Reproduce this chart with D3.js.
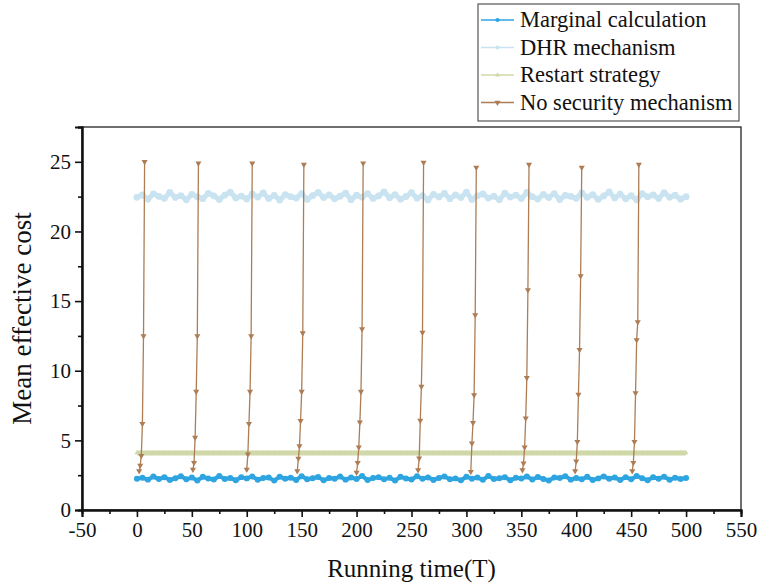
<!DOCTYPE html>
<html>
<head>
<meta charset="utf-8">
<script src="https://cdn.jsdelivr.net/npm/d3@7"></script>
<style>
  body { margin: 0; background: #fff; }
  text { font-family: "Liberation Serif", "Times New Roman", serif; fill: #111; }
</style>
</head>
<body>
<div id="chart"></div>
<script>
// ── Data ──────────────────────────────────────────────────────────────────────
const SERIES_NAMES = ["Marginal calculation", "DHR mechanism", "Restart strategy", "No security mechanism"];
const X_TICKS = [-50, 0, 50, 100, 150, 200, 250, 300, 350, 400, 450, 500, 550];
const Y_TICKS = [0, 5, 10, 15, 20, 25];

// sampled every 5 T from 0 to 500
const marginalVals = [
  2.25,2.31,2.18,2.40,2.22,2.35,2.15,2.28,2.42,2.20,
  2.33,2.12,2.38,2.26,2.19,2.44,2.23,2.30,2.14,2.36,
  2.27,2.41,2.17,2.29,2.34,2.11,2.39,2.24,2.32,2.16,
  2.43,2.21,2.28,2.37,2.13,2.30,2.25,2.40,2.18,2.33,
  2.22,2.45,2.15,2.29,2.36,2.20,2.31,2.12,2.38,2.26,
  2.19,2.42,2.24,2.34,2.16,2.30,2.41,2.21,2.27,2.13,
  2.39,2.25,2.33,2.17,2.44,2.22,2.28,2.35,2.14,2.31,
  2.26,2.40,2.19,2.37,2.23,2.12,2.34,2.29,2.43,2.18,
  2.30,2.21,2.38,2.15,2.27,2.41,2.24,2.33,2.16,2.36,
  2.20,2.44,2.28,2.13,2.35,2.25,2.39,2.17,2.32,2.22,2.30
];
const dhrVals = [
  22.45,22.62,22.31,22.70,22.52,22.38,22.80,22.44,22.58,22.27,
  22.66,22.49,22.35,22.74,22.56,22.29,22.61,22.83,22.41,22.54,
  22.33,22.69,22.47,22.77,22.36,22.59,22.25,22.64,22.50,22.40,
  22.72,22.30,22.57,22.81,22.43,22.63,22.34,22.53,22.76,22.28,
  22.60,22.46,22.71,22.37,22.55,22.85,22.42,22.65,22.32,22.51,
  22.78,22.39,22.58,22.26,22.67,22.48,22.73,22.35,22.62,22.44,
  22.82,22.30,22.56,22.69,22.40,22.53,22.27,22.75,22.47,22.61,
  22.36,22.80,22.50,22.33,22.66,22.43,22.72,22.29,22.59,22.52,
  22.38,22.77,22.45,22.64,22.31,22.55,22.84,22.41,22.68,22.34,
  22.57,22.26,22.71,22.49,22.63,22.37,22.79,22.46,22.60,22.32,22.50
];
const restartVal = 4.1;

// No security mechanism: one burst per period, start time + values at each T
const spikeStarts = [2, 51, 100, 146, 200, 256, 304, 351, 399, 451];
const spikeVals = [
  [2.8, 3.2, 3.9, 6.2, 12.5, 25.0],
  [2.9, 3.4, 5.2, 8.5, 12.5, 24.9],
  [2.9, 4.0, 6.2, 8.5, 12.5, 24.9],
  [2.8, 3.7, 4.6, 6.4, 8.5, 12.7, 24.8],
  [2.7, 3.4, 4.5, 6.3, 8.5, 13.0, 24.9],
  [2.87, 3.71, 6.42, 8.86, 12.74, 24.95],
  [2.75, 4.79, 6.27, 8.26, 14.0, 24.6],
  [2.87, 3.35, 4.5, 6.59, 9.5, 15.8, 24.8],
  [2.8, 3.5, 4.9, 8.3, 11.5, 16.8, 24.6],
  [2.8, 3.4, 4.9, 8.4, 12.2, 13.5, 24.8]
];

const COLORS = ["#2ea4e0", "#c9e3f1", "#d0d8a8", "#ad7d55"];

// ── Dimensions ────────────────────────────────────────────────────────────────
const W = 760, H = 584;
const margin = { top: 127, right: 19, bottom: 74, left: 82 };
const width  = W - margin.left - margin.right;
const height = H - margin.top  - margin.bottom;

const svg = d3.select("#chart").append("svg")
  .attr("width", W).attr("height", H);
const g = svg.append("g").attr("transform", `translate(${margin.left},${margin.top})`);

// ── Scales ────────────────────────────────────────────────────────────────────
const x = d3.scaleLinear().domain([-50, 550]).range([0, width]);
const y = d3.scaleLinear().domain([0, 27.5]).range([height, 0]);

// ── Build point lists ─────────────────────────────────────────────────────────
const marginalPts = marginalVals.map((v, i) => ({ t: i * 5, v }));
const dhrPts      = dhrVals.map((v, i) => ({ t: i * 5, v }));
const restartPts  = d3.range(0, 501, 5).map(t => ({ t, v: restartVal }));
const spikePts = [];
spikeStarts.forEach((s, k) => {
  spikeVals[k].forEach((v, j) => spikePts.push({ t: s + j, v }));
  spikePts.push(null);   // gap between bursts
});

const line = d3.line()
  .defined(d => d !== null)
  .x(d => x(d.t)).y(d => y(d.v));

function drawSeries(pts, color, lw, symbol, size, rotate) {
  g.append("path").datum(pts)
    .attr("fill", "none").attr("stroke", color).attr("stroke-width", lw)
    .attr("stroke-linejoin", "round")
    .attr("d", line);
  g.append("g").selectAll("path")
    .data(pts.filter(d => d !== null))
    .join("path")
    .attr("d", d3.symbol(symbol, size))
    .attr("transform", d => `translate(${x(d.t)},${y(d.v)}) rotate(${rotate})`)
    .attr("fill", color);
}

drawSeries(marginalPts, COLORS[0], 4, d3.symbolCircle, 28, 0);
drawSeries(dhrPts,      COLORS[1], 5, d3.symbolCircle, 36, 0);
drawSeries(restartPts,  COLORS[2], 5, d3.symbolTriangle, 10, 0);
drawSeries(spikePts,    COLORS[3], 1.3, d3.symbolTriangle, 16, 180);

// ── Frame & axes ──────────────────────────────────────────────────────────────
g.append("rect").attr("width", width).attr("height", height)
  .attr("fill", "none").attr("stroke", "#222").attr("stroke-width", 1.3);

const fmt = d => String(d);   // plain hyphen for negatives

const xAxis = g.append("g").attr("transform", `translate(0,${height})`)
  .call(d3.axisBottom(x).tickValues(X_TICKS).tickSize(7).tickPadding(5).tickFormat(fmt));
g.append("g").attr("transform", `translate(0,${height})`)
  .call(d3.axisBottom(x).tickValues(X_TICKS.slice(0, -1).map(v => v + 25)).tickSize(4).tickFormat(""));

const yAxis = g.append("g")
  .call(d3.axisLeft(y).tickValues(Y_TICKS).tickSize(7).tickPadding(4).tickFormat(fmt));
g.append("g")
  .call(d3.axisLeft(y).tickValues(Y_TICKS.map(v => v + 2.5)).tickSize(4).tickFormat(""));

[xAxis, yAxis].forEach(a => a.attr("font-family", null).attr("font-size", 21));
g.selectAll(".domain").attr("stroke", "#111").attr("stroke-width", 2);
g.selectAll(".tick line").attr("stroke", "#111").attr("stroke-width", 1.6);
g.selectAll(".tick text").attr("fill", "#111")
  .style("font-family", "Liberation Serif, serif");

// axis titles
svg.append("text")
  .attr("x", margin.left + width / 2).attr("y", 577)
  .attr("text-anchor", "middle").style("font-size", "25px")
  .text("Running time(T)");
svg.append("text")
  .attr("transform", `translate(31,${margin.top + height / 2}) rotate(-90)`)
  .attr("text-anchor", "middle").style("font-size", "27px")
  .text("Mean effective cost");

// ── Legend ────────────────────────────────────────────────────────────────────
const legend = svg.append("g").attr("transform", "translate(478,4)");
legend.append("rect").attr("width", 261).attr("height", 117)
  .attr("fill", "#fff").attr("stroke", "#555").attr("stroke-width", 1.2);
const legendSyms = [[d3.symbolCircle, 14, 0], [d3.symbolCircle, 14, 0], [d3.symbolTriangle, 10, 0], [d3.symbolTriangle, 16, 180]];
SERIES_NAMES.forEach((name, i) => {
  const row = legend.append("g").attr("transform", `translate(0,${16 + i * 27.5})`);
  row.append("line").attr("x1", 3).attr("x2", 36)
    .attr("stroke", COLORS[i]).attr("stroke-width", 1.5);
  row.append("path").attr("d", d3.symbol(legendSyms[i][0], legendSyms[i][1]))
    .attr("transform", `translate(19.5,0) rotate(${legendSyms[i][2]})`)
    .attr("fill", COLORS[i]);
  row.append("text").attr("x", 42).attr("y", 7)
    .style("font-size", "22.5px").text(name);
});
</script>
</body>
</html>
